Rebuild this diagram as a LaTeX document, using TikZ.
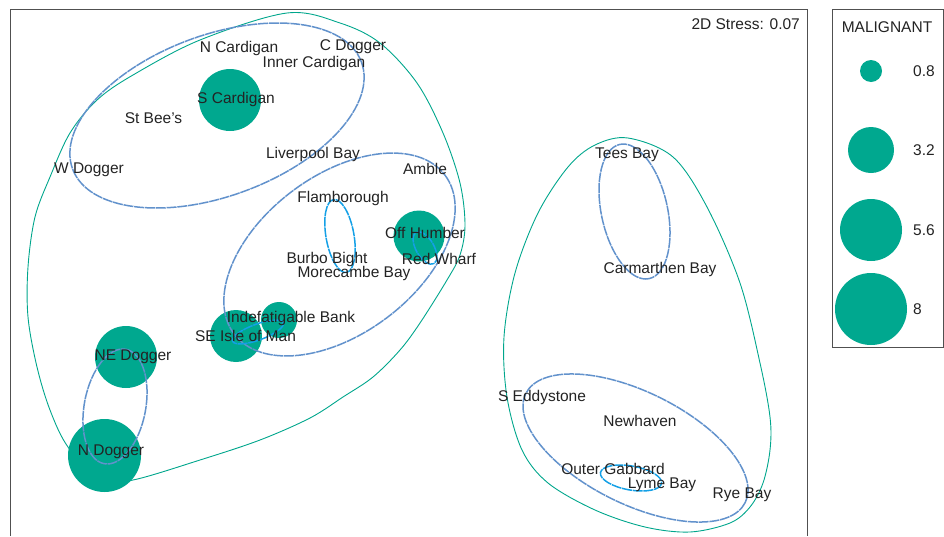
\documentclass[tikz,border=0pt]{standalone}
\usepackage{fontspec}
\setmainfont{Liberation Sans}
\usepackage{tikz}
\definecolor{bubble}{RGB}{0,168,143}
\definecolor{hullgreen}{RGB}{0,166,140}
\definecolor{hullblue}{RGB}{98,146,204}
\definecolor{hullsky}{RGB}{20,160,230}
\definecolor{ink}{RGB}{35,35,35}
\definecolor{rim}{RGB}{80,80,80}
\tikzset{
  site/.style={font=\fontsize{15.5}{18}\selectfont, text=ink, inner sep=0pt},
  dot/.style={circle, fill=bubble, inner sep=0pt, minimum size=#1},
  frame/.style={rim, line width=0.9pt},
  outer/.style={hullgreen, line width=0.9pt},
  inner/.style={hullblue, line width=1.5pt, dash pattern=on 10pt off 0.8pt},
  core/.style={hullsky, line width=1.5pt, dash pattern=on 10pt off 0.8pt}
}

\begin{document}
\begin{tikzpicture}[x=1pt,y=-1pt]
  \useasboundingbox (0,0) rectangle (944,536);
  \draw[frame] (10,536) -- (10,9) -- (807,9) -- (807,536);
  \draw[frame] (832,9) rectangle (943,347);

  \draw[outer] plot[smooth cycle, tension=0.55] coordinates {
    (287,13) (340,23) (380,43) (417,83) (443,133) (460,183) (465,225)
    (460,255) (447,280) (420,323) (400,350) (373,377) (343,397) (310,418)
    (260,440) (200,460) (133,480) (100,480) (68,447) (50,410) (37,367)
    (28,317) (28,267) (35,217) (50,177) (70,133) (97,100) (133,75) (200,40)};
  \draw[outer] plot[smooth cycle, tension=0.55] coordinates {
    (628,138) (673,157) (707,207) (740,283) (760,363) (770,417) (770,450)
    (763,483) (750,507) (730,523) (690,532) (645,527) (595,510) (548,483)
    (522,450) (507,397) (504,337) (515,273) (538,213) (568,167) (595,145)};

  \node[dot=62pt] (bubSCardigan) at (230,100) {};
  \node[dot=51pt] (bubOffHumber) at (419,236) {};
  \node[dot=62pt] (bubNEDogger) at (126,357) {};
  \node[dot=73pt] (bubNDogger) at (104.5,455.5) {};
  \node[dot=52pt] (bubSEIsle) at (236,336) {};
  \node[dot=36pt] (bubIndef) at (279,320) {};

  \draw[inner, rotate around={20.3:(217,115.5)}] (217,115.5) ellipse [x radius=154, y radius=80.5];
  \draw[inner, rotate around={37:(339.5,254.5)}] (339.5,254.5) ellipse [x radius=132, y radius=79];
  \draw[inner, rotate around={79.3:(115,406.5)}] (115,406.5) ellipse [x radius=58.2, y radius=30.7];
  \draw[inner, rotate around={-77.7:(634.5,211.5)}] (634.5,211.5) ellipse [x radius=68.7, y radius=33.1];
  \draw[inner, rotate around={-26.4:(635.5,448)}] (635.5,448) ellipse [x radius=122.5, y radius=56];

  \draw[core, rotate around={-80:(340,236)}] (340,236) ellipse [x radius=37, y radius=14];
  \draw[core, rotate around={-60:(425,248)}] (425,248) ellipse [x radius=18, y radius=9];
  \draw[core, rotate around={20:(258,332)}] (258,332) ellipse [x radius=27, y radius=8];
  \draw[core, rotate around={-10:(631,478)}] (631,478) ellipse [x radius=31, y radius=12];

  \node[site] (nCardigan) at (239,48) {N Cardigan};
  \node[site] (cDogger) at (353,47) {C Dogger};
  \node[site] (innerCardigan) at (314,63) {Inner Cardigan};
  \node[site] (sCardigan) at (236,99) {S Cardigan};
  \node[site] (stBees) at (153.5,118) {St Bee's};
  \node[site] (liverpool) at (313,154) {Liverpool Bay};
  \node[site] (wDogger) at (89,170) {W Dogger};
  \node[site] (amble) at (425,169) {Amble};
  \node[site] (flamborough) at (343,198) {Flamborough};
  \node[site] (offHumber) at (425,233) {Off Humber};
  \node[site] (burbo) at (327,259) {Burbo Bight};
  \node[site] (morecambe) at (354,273) {Morecambe Bay};
  \node[site] (redWharf) at (439,259) {Red Wharf};
  \node[site] (indef) at (291,318) {Indefatigable Bank};
  \node[site] (seIsle) at (245.5,336) {SE Isle of Man};
  \node[site] (neDogger) at (133,357) {NE Dogger};
  \node[site] (nDogger) at (111,452) {N Dogger};
  \node[site] (tees) at (627,155) {Tees Bay};
  \node[site] (carmarthen) at (660,269) {Carmarthen Bay};
  \node[site] (sEddystone) at (542,397) {S Eddystone};
  \node[site] (newhaven) at (640,421) {Newhaven};
  \node[site] (outerGabbard) at (613,469) {Outer Gabbard};
  \node[site] (lyme) at (662,485) {Lyme Bay};
  \node[site] (rye) at (742,495) {Rye Bay};

  \node[site, anchor=east] (stress) at (800,24) {2D Stress: 0.07};

  \node[site] (keyTitle) at (887,27) {MALIGNANT};
  \node[dot=22pt] (key1) at (871,71) {};
  \node[dot=46pt] (key2) at (871,150) {};
  \node[dot=62pt] (key3) at (871,230) {};
  \node[dot=72pt] (key4) at (871,309) {};
  \node[site, anchor=west] (keyLab1) at (913,71) {0.8};
  \node[site, anchor=west] (keyLab2) at (913,150) {3.2};
  \node[site, anchor=west] (keyLab3) at (913,230) {5.6};
  \node[site, anchor=west] (keyLab4) at (913,309) {8};
\end{tikzpicture}
\end{document}
